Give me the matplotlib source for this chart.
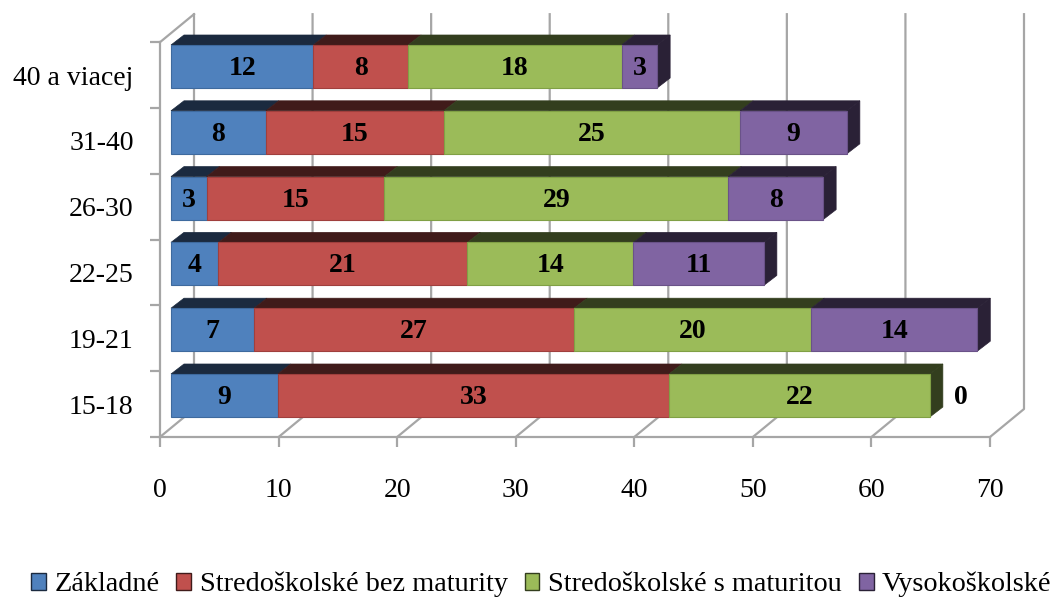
import matplotlib
matplotlib.use("Agg")
import matplotlib.pyplot as plt
from matplotlib.patches import Patch, Polygon

plt.rcParams['font.family'] = ['Liberation Serif']

# Data, bottom row first
age_groups = ['15-18', '19-21', '22-25', '26-30', '31-40', '40 a viacej']
zakladne = [9, 7, 4, 3, 8, 12]
bez_maturity = [33, 27, 21, 15, 15, 8]
s_maturitou = [22, 20, 14, 29, 25, 18]
vysokoskolske = [0, 14, 11, 8, 9, 3]

series_names = ['Základné', 'Stredoškolské bez maturity',
                'Stredoškolské s maturitou', 'Vysokoškolské']
series_values = [zakladne, bez_maturity, s_maturitou, vysokoskolske]
front_colors = ['#4F81BD', '#C0504D', '#9BBB59', '#8064A2']
dark_colors = ['#1B2A3F', '#401B1A', '#333E1E', '#2A2136']
edge_colors = ['#3E6A9E', '#A03F3D', '#80A045', '#6A5288']
grid_color = '#A6A6A6'

fig = plt.figure(figsize=(10.59, 5.99), dpi=100)
ax = fig.add_axes([160 / 1059, (599 - 437) / 599, 830 / 1059, 394.8 / 599])
ax.set_xlim(0, 70)
ax.set_ylim(0, 6)

# pixel sizes of one data unit, used for the fake 3D depth
px_x = 830 / 70
px_y = 394.8 / 6
wall_dx, wall_dy = 34 / px_x, 28 / px_y
bar_dx, bar_dy = 13 / px_x, 10 / px_y
shift_x = 11 / px_x
bar_bottom = 20 / px_y
bar_height = 43 / px_y
label_drop = 2 / px_y

# Walls of the 3D box
for k in range(0, 71, 10):
    ax.plot([k, k + wall_dx, k + wall_dx], [0, wall_dy, 6 + wall_dy], color=grid_color,
            lw=1.6, clip_on=False, zorder=1)
ax.plot([0, wall_dx], [6, 6 + wall_dy], color=grid_color, lw=1.6, clip_on=False, zorder=1)

# Bars, top row first so lower rows sit in front
for row in range(5, -1, -1):
    z = 10 + (5 - row) * 2
    y0 = row + bar_bottom
    y1 = y0 + bar_height
    label_y = (y0 + y1) / 2 - label_drop
    left = 0
    for s in range(4):
        val = series_values[s][row]
        x0 = left + shift_x
        x1 = x0 + val
        if val > 0:
            ax.barh(y0, val, height=bar_height, left=x0, align='edge', color=front_colors[s],
                    edgecolor=edge_colors[s], linewidth=0.8, zorder=z + 1, clip_on=False)
            ax.add_patch(Polygon([(x0, y1), (x1, y1), (x1 + bar_dx, y1 + bar_dy), (x0 + bar_dx, y1 + bar_dy)],
                                 closed=True, facecolor=dark_colors[s], edgecolor=dark_colors[s],
                                 lw=0.5, zorder=z, clip_on=False))
            ax.text((x0 + x1) / 2, label_y, str(val), ha='center', va='center',
                    fontsize=20, fontweight='bold', color='black', zorder=40)
        else:
            # empty segment: label sits right of the bar
            ax.text(x0 + 2.6, label_y, str(val), ha='center', va='center',
                    fontsize=20, fontweight='bold', color='black', zorder=40)
        left += val
    # side of the last visible segment
    last = [s for s in range(4) if series_values[s][row] > 0][-1]
    xe = left + shift_x
    ax.add_patch(Polygon([(xe, y0), (xe, y1), (xe + bar_dx, y1 + bar_dy), (xe + bar_dx, y0 + bar_dy)],
                         closed=True, facecolor=dark_colors[last], edgecolor=dark_colors[last],
                         lw=0.5, zorder=z, clip_on=False))

# Axes
for side in ['top', 'right']:
    ax.spines[side].set_visible(False)
for side in ['left', 'bottom']:
    ax.spines[side].set_color(grid_color)
    ax.spines[side].set_linewidth(1.6)
    ax.spines[side].set_zorder(2)

ax.set_xticks(range(0, 71, 10))
ax.set_yticks(range(0, 7))
ax.set_yticklabels([])
ax.set_yticks([i + 0.5 for i in range(6)], minor=True)
ax.set_yticklabels(age_groups, minor=True, fontsize=20)
ax.tick_params(axis='y', which='minor', length=0, pad=19)
ax.tick_params(axis='both', which='major', length=7.2, width=1.6, color=grid_color, labelsize=20)
ax.tick_params(axis='x', which='major', pad=22)

handles = [Patch(facecolor=c, edgecolor=e, lw=1.0) for c, e in zip(front_colors, dark_colors)]
fig.legend(handles, series_names, loc='lower center', bbox_to_anchor=(0.511, -0.03), ncol=4,
           frameon=False, fontsize=20.3, handlelength=0.53, handleheight=0.53, handletextpad=0.3,
           columnspacing=0.6, borderpad=0.2)

fig.savefig('out.png', dpi=100, facecolor='white')
